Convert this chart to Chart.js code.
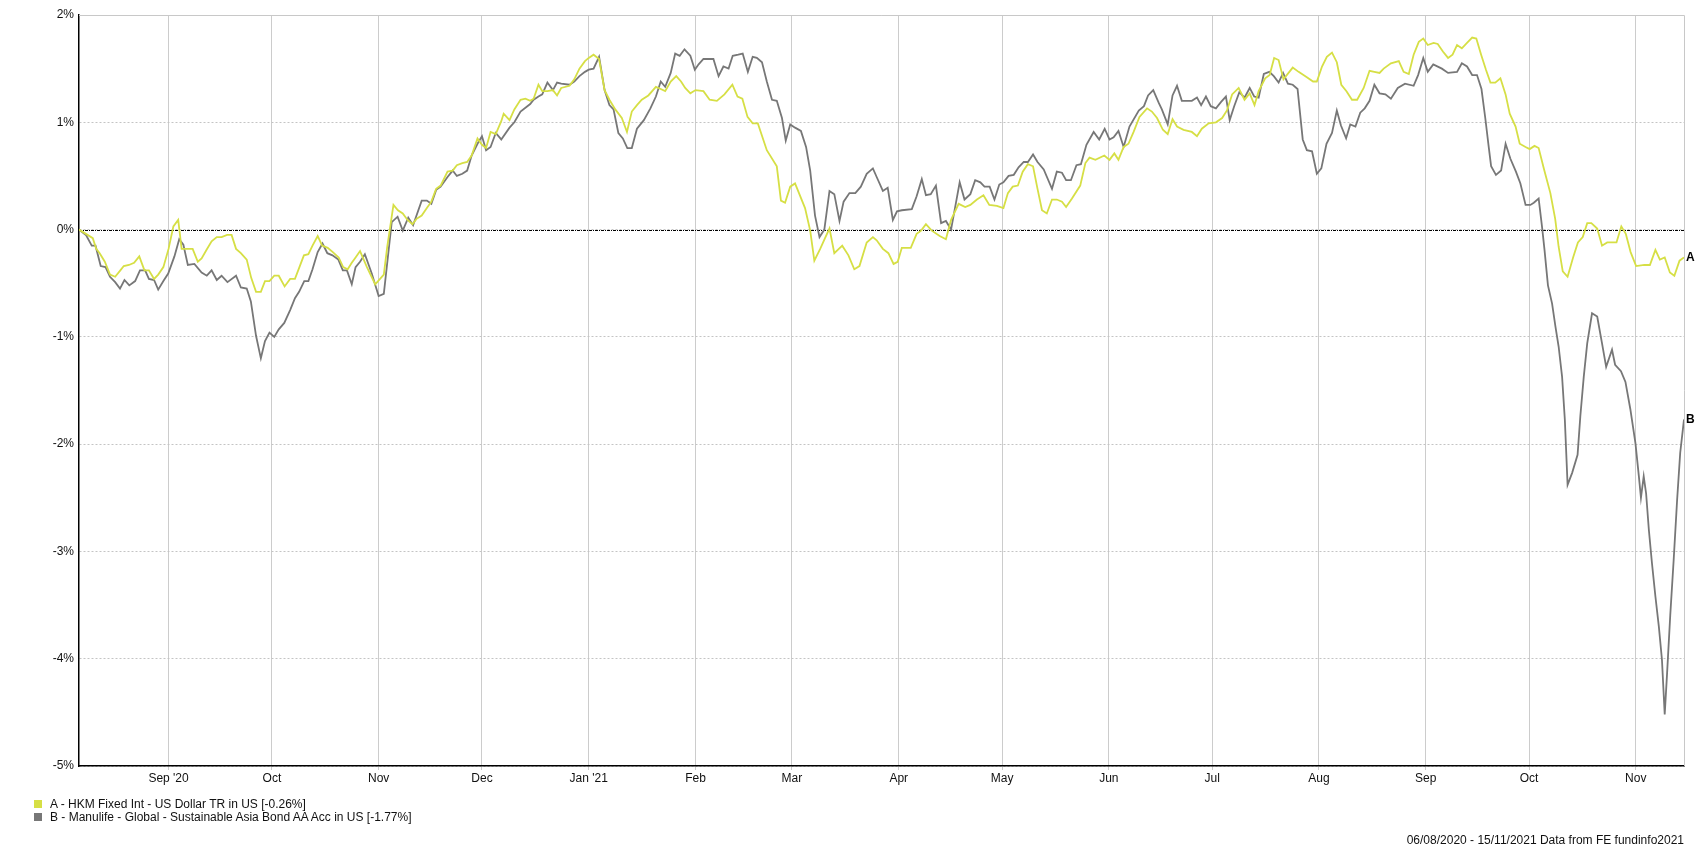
<!DOCTYPE html>
<html>
<head>
<meta charset="utf-8">
<script src="https://cdn.jsdelivr.net/npm/chart.js@4"></script>
<style>
  html, body { margin: 0; padding: 0; background: #fff; }
  #wrap { position: relative; width: 1695px; height: 848px; font-family: Arial, "Liberation Sans", sans-serif; font-size: 12px; color: #111; }
  #chart { position: absolute; left: 0; top: 0; }
  .legend-row { position: absolute; left: 50px; white-space: nowrap; line-height: 14px; }
  .swatch { position: absolute; left: -16px; top: 3px; width: 8px; height: 8px; }
  #footer { position: absolute; right: 11px; top: 833px; white-space: nowrap; line-height: 14px; }
</style>
</head>
<body>
<div id="wrap">
  <canvas id="chart" width="1695" height="848"></canvas>
  <div class="legend-row" style="top:797px"><span class="swatch" style="background:#d6df45"></span>A - HKM Fixed Int - US Dollar TR in US [-0.26%]</div>
  <div class="legend-row" style="top:810px"><span class="swatch" style="background:#777777"></span>B - Manulife - Global - Sustainable Asia Bond AA Acc in US [-1.77%]</div>
  <div id="footer">06/08/2020 - 15/11/2021 Data from FE fundinfo2021</div>
</div>
<script>
// x values are days since 06/08/2020
const monthDays = [26, 56, 87, 117, 148, 179, 207, 238, 268, 299, 329, 360, 391, 421, 452];
const monthLabels = ["Sep '20", 'Oct', 'Nov', 'Dec', "Jan '21", 'Feb', 'Mar', 'Apr', 'May', 'Jun', 'Jul', 'Aug', 'Sep', 'Oct', 'Nov'];
const yTicks = [2, 1, 0, -1, -2, -3, -4, -5];

// A - HKM Fixed Int - US Dollar TR (cumulative %)
const daysA = [0, 2, 4, 5, 6, 7.5, 9, 10.5, 12, 13, 14.5, 16, 17.5, 19, 20.3, 21.8, 23, 24.5, 26, 27.4, 28.8, 29.8,
  31.6, 33, 34.5, 35.6, 37, 38.5, 40, 41.4, 43, 44.3, 45.6, 47, 48.7, 50, 51.4, 52.8, 54, 55.3, 56.7, 58, 59.7,
  61.3, 62.7, 64, 65.3, 66.6, 67.8, 69.3, 70.6, 72.2, 73.7, 75.4, 76.7, 78, 79.2, 80.3, 81.6, 83.6, 86, 88.5,
  89.5, 91.3, 92.6, 94, 95.4, 96.8, 98, 99.5, 101, 102.3, 103.7, 105, 107, 108.5, 109.7, 111.3, 112.7, 114,
  115.7, 117, 118.2, 119.5, 121, 122.6, 123.3, 125, 126.4, 128.2, 129.6, 131, 132, 133.4, 134.5, 136, 137.6,
  138.8, 140, 142.4, 143.8, 145.3, 146.9, 148, 149.4, 151, 152.6, 154, 155.7, 157.6, 159.1, 160.5, 162, 163.4,
  165.3, 167.5, 168.9, 170.2, 171.8, 173.4, 174.8, 176, 177.5, 179, 181.3, 183.1, 185.2, 187.4, 189.7, 191.2,
  192.6, 194.1, 195.6, 197.1, 199.7, 202.6, 203.8, 205, 206.5, 207.9, 210.8, 212.3, 213.5, 215.2, 216.6, 217.9,
  219.3, 221.6, 223.4, 225.1, 226.6, 228.7, 230.5, 231.6, 233.4, 235, 236.5, 237.7, 238.9, 241.5, 243.2, 244.5,
  245.9, 247.6, 249.9, 251.7, 253.2, 255.4, 257.3, 258.8, 260.7, 262.6, 264.3, 266.5, 268.4, 269.7, 271.1, 272.6,
  274, 275.5, 277, 278.3, 279.6, 281, 282.5, 283.9, 285.4, 286.6, 288.3, 290.7, 292.2, 293.4, 295.1, 297.7,
  299.2, 300.6, 301.8, 303.3, 304.7, 306.2, 307.9, 310.1, 311.5, 313, 314.7, 316.1, 317.5, 318.8, 320.7, 323.1,
  324.6, 326, 328, 330.1, 331.9, 333.3, 334.8, 336.7, 338.4, 339.9, 341.3, 342.5, 344.4, 345.7, 347, 348.3,
  349.7, 352.4, 354.1, 356.5, 358.3, 359.4, 360.9, 362.3, 363.8, 365.2, 366.5, 368, 369.6, 371.1, 373, 374.7,
  376.1, 377.6, 378.8, 380.9, 383.2, 384.6, 386.1, 387.5, 389, 390.3, 391.6, 393.3, 394.5, 396, 397.5, 398.8,
  400.1, 401.5, 403, 404.5, 405.7, 407.1, 408.5, 409.8, 411.2, 412.7, 414.2, 415.4, 417.1, 418.3, 420, 421.2,
  422.6, 423.8, 425.3, 427.2, 428.6, 429.6, 430.8, 432.2, 433.8, 435.2, 436.6, 437.9, 439.1, 440.8, 442.2, 443.7,
  446.4, 447.8, 449.1, 450.5, 452.1, 454.5, 456.1, 457.7, 459, 460.4, 461.9, 463.2, 464.7, 466];
const fundA = [0, -0.04, -0.08, -0.18, -0.22, -0.30, -0.42, -0.44, -0.38, -0.34, -0.33, -0.31, -0.25, -0.38, -0.38, -0.46, -0.42, -0.35, -0.18, 0.03, 0.09, -0.18,
  -0.18, -0.18, -0.30, -0.27, -0.19, -0.11, -0.07, -0.07, -0.05, -0.05, -0.18, -0.22, -0.28, -0.45, -0.58, -0.58, -0.48, -0.48, -0.43, -0.43, -0.53,
  -0.46, -0.46, -0.35, -0.24, -0.23, -0.15, -0.06, -0.15, -0.17, -0.21, -0.26, -0.35, -0.37, -0.31, -0.26, -0.20, -0.35, -0.51, -0.42,
  -0.16, 0.23, 0.18, 0.15, 0.09, 0.05, 0.10, 0.13, 0.20, 0.26, 0.38, 0.41, 0.54, 0.55, 0.60, 0.62, 0.63, 0.69,
  0.85, 0.79, 0.76, 0.91, 0.89, 1.01, 1.08, 1.02, 1.12, 1.21, 1.22, 1.20, 1.22, 1.35, 1.29, 1.29, 1.30,
  1.25, 1.32, 1.34, 1.40, 1.50, 1.57, 1.60, 1.63, 1.59, 1.30, 1.21, 1.12, 1.04, 0.91, 1.10, 1.16, 1.21,
  1.25, 1.33, 1.31, 1.29, 1.38, 1.43, 1.38, 1.32, 1.27, 1.30, 1.29, 1.21, 1.20, 1.26, 1.35, 1.24,
  1.22, 1.05, 0.99, 0.99, 0.74, 0.59, 0.27, 0.25, 0.40, 0.43, 0.20, -0.01, -0.29, -0.18, -0.08, 0.01,
  -0.22, -0.15, -0.24, -0.37, -0.34, -0.12, -0.07, -0.10, -0.18, -0.22, -0.32, -0.30, -0.17, -0.17, -0.04, -0.01,
  0.05, -0.01, -0.06, -0.09, 0.09, 0.24, 0.21, 0.23, 0.28, 0.32, 0.23, 0.22, 0.20, 0.34, 0.40, 0.41,
  0.54, 0.61, 0.59, 0.38, 0.18, 0.15, 0.28, 0.28, 0.26, 0.21, 0.29, 0.41, 0.62, 0.67, 0.65, 0.69,
  0.65, 0.71, 0.65, 0.77, 0.80, 0.91, 1.05, 1.13, 1.10, 1.04, 0.93, 0.89, 1.03, 0.96, 0.93, 0.91,
  0.87, 0.94, 0.99, 1.00, 1.04, 1.11, 1.26, 1.32, 1.21, 1.27, 1.16, 1.29, 1.41, 1.44, 1.60, 1.58,
  1.40, 1.51, 1.47, 1.42, 1.38, 1.38, 1.52, 1.61, 1.65, 1.56, 1.35, 1.29, 1.21, 1.21, 1.32, 1.48,
  1.47, 1.46, 1.50, 1.55, 1.57, 1.47, 1.45, 1.63, 1.75, 1.78, 1.72, 1.74, 1.73, 1.66, 1.60, 1.63,
  1.72, 1.69, 1.74, 1.79, 1.78, 1.63, 1.49, 1.37, 1.37, 1.41, 1.26, 1.08, 0.96, 0.80, 0.77, 0.75,
  0.78, 0.76, 0.57, 0.34, 0.10, -0.16, -0.39, -0.44, -0.26, -0.12, -0.07, 0.06, 0.06, 0.01, -0.15, -0.12,
  -0.12, 0.03, -0.04, -0.21, -0.34, -0.33, -0.33, -0.19, -0.28, -0.26, -0.40, -0.43, -0.29, -0.26];

// B - Manulife - Global - Sustainable Asia Bond AA Acc (cumulative %)
const daysB = [0, 2, 3.7, 4.8, 6.3, 7.7, 9, 10.5, 11.9, 13.2, 14.6, 16.3, 17.7, 19.2, 20.3, 21.8, 23, 24.5, 25.9, 27.7, 29.1, 30.3,
  31.6, 33.5, 35.6, 37.1, 38.5, 40, 41.4, 43.1, 45.6, 47, 48.7, 49.9, 51.4, 52.8, 54, 55.3, 56.7, 58, 59.6,
  61.3, 62.7, 63.9, 65.4, 66.6, 67.8, 69.3, 70.7, 72.1, 73.6, 75.3, 76.6, 77.8, 79.2, 80.3, 81.6, 83, 85, 87,
  88.5, 90.8, 92.5, 94, 95.6, 97, 99.5, 101, 102.3, 103.7, 105, 107, 108.5, 109.7, 111.3, 112.7, 114, 115.7,
  117, 118.2, 119.5, 121, 122.6, 125, 126.4, 128.2, 131, 132, 133.4, 134.5, 136, 137.6, 138.8, 140, 142.4,
  143.8, 145.3, 146.9, 148, 149.4, 151, 152.6, 154, 155.2, 156.6, 157.9, 159.2, 160.5, 162, 164, 165.9, 167.5,
  168.9, 170.2, 171.8, 173.1, 174.4, 175.8, 177.5, 178.8, 179.9, 181.3, 184.2, 185.7, 187.1, 188.6, 189.8,
  191.4, 192.7, 194.2, 195.6, 196.8, 198.3, 199.7, 201.2, 202.6, 204.1, 205.2, 206.5, 207.9, 209.6, 211.1,
  212.3, 213.7, 215, 216.4, 217.9, 219.3, 220.8, 222, 223.7, 225.4, 227, 228.7, 230.5, 231.6, 233.4, 234.8,
  236.3, 237.5, 238.9, 241.8, 243.2, 244.7, 245.9, 247.3, 248.8, 250.3, 251.7, 253.2, 255.7, 257.1, 258.8,
  260.2, 261.7, 262.9, 264.4, 265.8, 267.2, 268.4, 269.9, 271.4, 272.8, 274.3, 275.5, 277, 278.3, 280.1,
  282.5, 283.9, 285.4, 286.6, 288, 289.6, 290.9, 292.5, 294.6, 296.2, 297.8, 299.2, 300.4, 301.8, 303.3,
  305, 307.7, 309.2, 310.4, 311.9, 313.5, 314.4, 316.1, 317.5, 318.8, 320.2, 323.1, 324.6, 325.8, 327.2,
  328.6, 330.1, 331.6, 333, 334.1, 335.4, 336.9, 338.4, 339.9, 341.2, 342.5, 344, 345.6, 346.9, 348.3,
  349.6, 351, 352.4, 353.8, 355.3, 356.5, 358, 359.4, 360.7, 362.2, 363.8, 365.2, 366.4, 367.9, 369.1,
  370.6, 372, 373.3, 374.7, 376.1, 377.6, 379.3, 380.9, 382.9, 385, 387.5, 388.8, 390.3, 391.6, 393.2,
  395.7, 397.5, 400.1, 401.5, 403, 404.5, 405.9, 407.2, 408.3, 409.3, 410, 411.4, 412.9, 414.2, 415.6,
  417.2, 418.5, 420, 421.4, 422.4, 423.8, 424.8, 425.5, 426.5, 427.7, 428.7, 429.6, 430.6, 431.4, 432.2,
  433.5, 435.1, 435.9, 436.9, 437.9, 439.3, 440.8, 442.2, 443.4, 445.1, 446, 447.7, 449, 450.4, 451.9,
  452.9, 453.5, 454.3, 455, 455.8, 456.7, 457.7, 458.7, 459.6, 460.4, 461.1, 462, 463, 464, 464.9, 466];
const fundB = [0, -0.05, -0.15, -0.15, -0.34, -0.35, -0.44, -0.49, -0.55, -0.47, -0.52, -0.48, -0.38, -0.38, -0.46, -0.47, -0.56, -0.48, -0.41, -0.25, -0.09, -0.14,
  -0.33, -0.32, -0.40, -0.43, -0.38, -0.47, -0.43, -0.49, -0.43, -0.54, -0.55, -0.67, -0.99, -1.20, -1.04, -0.96, -1.00, -0.93, -0.87,
  -0.75, -0.64, -0.58, -0.48, -0.48, -0.37, -0.21, -0.13, -0.22, -0.24, -0.28, -0.38, -0.38, -0.51, -0.35, -0.30, -0.23, -0.41, -0.62,
  -0.60, 0.07, 0.12, -0.01, 0.11, 0.04, 0.27, 0.27, 0.24, 0.37, 0.40, 0.49, 0.55, 0.50, 0.52, 0.55, 0.69, 0.80,
  0.87, 0.74, 0.77, 0.90, 0.84, 0.95, 1.00, 1.10, 1.17, 1.21, 1.24, 1.26, 1.37, 1.30, 1.37, 1.36, 1.35,
  1.38, 1.43, 1.47, 1.49, 1.50, 1.61, 1.30, 1.16, 1.12, 0.90, 0.85, 0.76, 0.76, 0.94, 1.02, 1.13, 1.24,
  1.38, 1.33, 1.46, 1.64, 1.62, 1.68, 1.62, 1.49, 1.54, 1.59, 1.59, 1.43, 1.52, 1.50, 1.62,
  1.63, 1.64, 1.47, 1.61, 1.60, 1.56, 1.38, 1.21, 1.20, 1.04, 0.83, 0.98, 0.95, 0.92, 0.77,
  0.55, 0.13, -0.07, 0.00, 0.36, 0.33, 0.08, 0.26, 0.34, 0.34, 0.40, 0.52, 0.57, 0.49, 0.36, 0.39,
  0.09, 0.17, 0.18, 0.19, 0.31, 0.47, 0.32, 0.33, 0.41, 0.06, 0.08, 0.00, 0.44, 0.28, 0.33,
  0.46, 0.44, 0.40, 0.40, 0.28, 0.42, 0.44, 0.50, 0.51, 0.58, 0.63, 0.63, 0.70, 0.63, 0.56,
  0.38, 0.54, 0.53, 0.46, 0.46, 0.60, 0.61, 0.79, 0.91, 0.84, 0.94, 0.84, 0.86, 0.92, 0.77,
  0.96, 1.11, 1.15, 1.25, 1.30, 1.18, 1.12, 0.98, 1.25, 1.34, 1.20, 1.20, 1.23, 1.16, 1.24,
  1.15, 1.13, 1.19, 1.24, 1.02, 1.15, 1.28, 1.23, 1.32, 1.24, 1.23, 1.45, 1.47, 1.43, 1.37,
  1.46, 1.36, 1.35, 1.31, 0.84, 0.74, 0.73, 0.52, 0.57, 0.80, 0.90, 1.11, 0.97, 0.85, 0.98,
  0.96, 1.09, 1.13, 1.20, 1.35, 1.27, 1.26, 1.22, 1.32, 1.36, 1.34, 1.44, 1.60, 1.47, 1.54,
  1.50, 1.46, 1.47, 1.55, 1.52, 1.44, 1.44, 1.31, 1.04, 0.77, 0.59, 0.51, 0.55, 0.80, 0.66,
  0.54, 0.43, 0.23, 0.23, 0.25, 0.29, 0.02, -0.19, -0.52, -0.69, -0.91, -1.09, -1.37, -1.77, -2.38,
  -2.27, -2.10, -1.74, -1.37, -1.06, -0.78, -0.81, -1.06, -1.28, -1.12, -1.26, -1.32, -1.42, -1.67, -1.99,
  -2.30, -2.50, -2.30, -2.46, -2.80, -3.11, -3.42, -3.70, -4.01, -4.52, -4.13, -3.60, -3.08, -2.52, -2.08, -1.77];

const seriesNames = ['A', 'B'];
const seriesColors = ['#d6df45', '#777777'];
const FONT = 'Arial, "Liberation Sans", sans-serif';

// zero line, top/right frame and end letters
const extras = {
    id: 'extras',
    beforeDatasetsDraw(chart) {
        const { ctx, chartArea: a, scales: { y } } = chart;
        ctx.save();
        ctx.strokeStyle = '#c8c8c8';
        ctx.lineWidth = 1;
        ctx.beginPath();
        ctx.moveTo(a.left, a.top + 0.5);
        ctx.lineTo(a.right + 0.5, a.top + 0.5);
        ctx.lineTo(a.right + 0.5, a.bottom);
        ctx.stroke();
        const y0 = Math.round(y.getPixelForValue(0)) + 0.5;
        ctx.strokeStyle = '#000';
        ctx.setLineDash([3, 1, 1, 1]);
        ctx.beginPath();
        ctx.moveTo(a.left, y0);
        ctx.lineTo(a.right, y0);
        ctx.stroke();
        ctx.restore();
    },
    afterDatasetsDraw(chart) {
        const { ctx, chartArea: a } = chart;
        ctx.save();
        ctx.font = 'bold 12px ' + FONT;
        ctx.fillStyle = '#000';
        ctx.textBaseline = 'middle';
        chart.data.datasets.forEach((ds, i) => {
            const pts = chart.getDatasetMeta(i).data;
            const last = pts[pts.length - 1];
            ctx.fillText(seriesNames[i], a.right + 2, last.y);
        });
        ctx.restore();
    },
};

const ctx = document.getElementById('chart').getContext('2d');
new Chart(ctx, {
    type: 'line',
    data: {
        datasets: [
            {
                label: 'A - HKM Fixed Int - US Dollar TR in US [-0.26%]',
                data: daysA.map((d, i) => ({ x: d, y: fundA[i] })),
                borderColor: seriesColors[0],
                borderWidth: 1.8,
                pointRadius: 0,
                tension: 0,
                fill: false,
            },
            {
                label: 'B - Manulife - Global - Sustainable Asia Bond AA Acc in US [-1.77%]',
                data: daysB.map((d, i) => ({ x: d, y: fundB[i] })),
                borderColor: seriesColors[1],
                borderWidth: 1.8,
                pointRadius: 0,
                tension: 0,
                fill: false,
            },
        ],
    },
    options: {
        responsive: false,
        animation: false,
        layout: { padding: { left: 0, top: 15, right: 11, bottom: 52 } },
        plugins: { legend: { display: false }, tooltip: { enabled: false } },
        scales: {
            x: {
                type: 'linear',
                min: 0,
                max: 466,
                afterBuildTicks: (s) => { s.ticks = monthDays.map((v) => ({ value: v })); },
                afterFit: (s) => { s.height = 30; },
                ticks: {
                    autoSkip: false,
                    maxRotation: 0,
                    padding: 1,
                    color: '#111',
                    font: { family: FONT, size: 12 },
                    callback: (v) => monthLabels[monthDays.indexOf(v)],
                },
                grid: { color: '#cccccc', tickLength: 4 },
                border: { color: '#000', width: 1.5 },
            },
            y: {
                min: -5,
                max: 2,
                afterBuildTicks: (s) => { s.ticks = yTicks.map((v) => ({ value: v })); },
                afterFit: (s) => { s.width = 79; },
                ticks: {
                    padding: 5,
                    color: '#111',
                    font: { family: FONT, size: 12 },
                    callback: (v) => v + '%',
                },
                grid: { color: '#c4c4c4', drawTicks: false },
                border: { color: '#000', width: 1.5, dash: [2, 2] },
            },
        },
    },
    plugins: [extras],
});
</script>
</body>
</html>
